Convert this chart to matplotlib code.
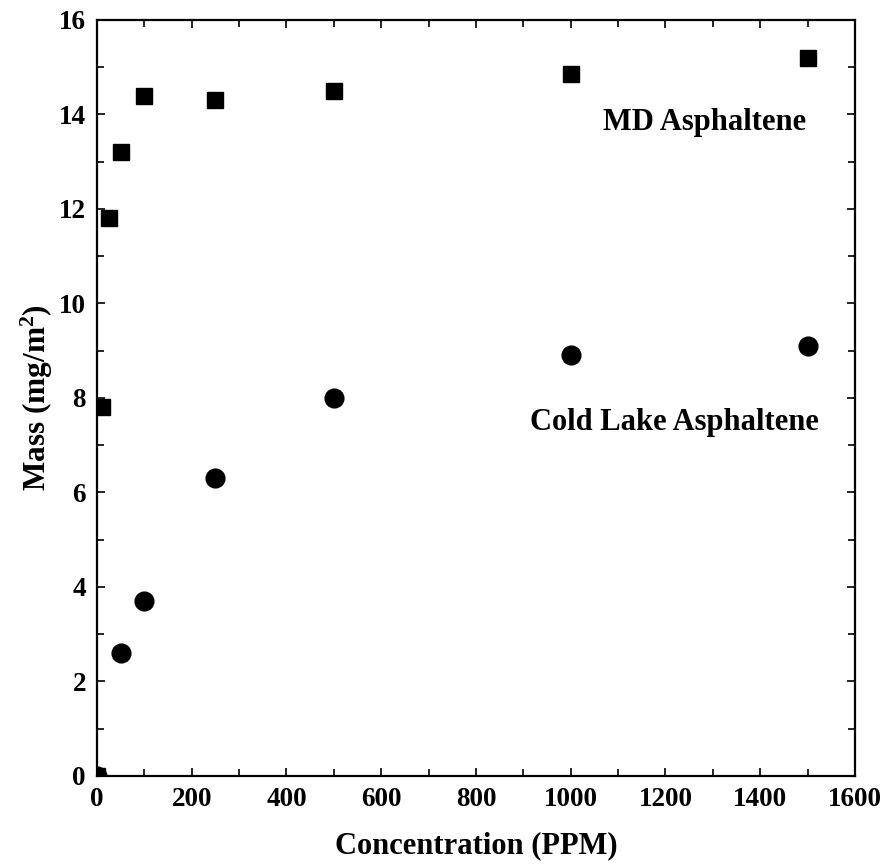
import numpy as np
import matplotlib.pyplot as plt
from matplotlib.ticker import MultipleLocator

plt.rcParams['font.family'] = ['Liberation Serif', 'DejaVu Serif']
plt.rcParams['font.weight'] = 'bold'
plt.rcParams['mathtext.fontset'] = 'custom'
plt.rcParams['mathtext.bf'] = 'Liberation Serif:bold'
plt.rcParams['mathtext.rm'] = 'Liberation Serif:bold'
plt.rcParams['mathtext.default'] = 'bf'

# adsorbed mass vs concentration
md_conc = [0, 10, 25, 50, 100, 250, 500, 1000, 1500]
md_mass = [0, 7.8, 11.8, 13.2, 14.4, 14.3, 14.5, 14.85, 15.2]
cl_conc = [0, 50, 100, 250, 500, 1000, 1500]
cl_mass = [0, 2.6, 3.7, 6.3, 8.0, 8.9, 9.1]

fig = plt.figure(figsize=(8.85, 8.65), dpi=100)
ax = fig.add_axes([0.1096, 0.1029, 0.8565, 0.874])

ax.plot(md_conc, md_mass, 's', color='k', ms=12, clip_on=True)
ax.plot(cl_conc, cl_mass, 'o', color='k', ms=13.5, clip_on=True)

ax.text(1283, 13.84, 'MD Asphaltene', ha='center', va='center',
        fontsize=22, fontweight='bold')
ax.text(1219, 7.49, 'Cold Lake Asphaltene', ha='center', va='center',
        fontsize=22, fontweight='bold')

ax.set_xlim(0, 1600)
ax.set_ylim(0, 16)
ax.xaxis.set_major_locator(MultipleLocator(200))
ax.xaxis.set_minor_locator(MultipleLocator(100))
ax.yaxis.set_major_locator(MultipleLocator(2))
ax.yaxis.set_minor_locator(MultipleLocator(1))
ax.tick_params(which='both', direction='in', top=True, right=True,
               labelsize=19.5, width=1.2, pad=8)
ax.tick_params(which='major', length=6)
ax.tick_params(which='minor', length=5)
for lbl in ax.get_xticklabels() + ax.get_yticklabels():
    lbl.set_fontweight('bold')
for sp in ax.spines.values():
    sp.set_linewidth(1.6)

ax.set_xlabel('Concentration (PPM)', fontsize=22, fontweight='bold', labelpad=14)
ax.set_ylabel('Mass (mg/m$^{2}$)', fontsize=22.5, fontweight='bold', labelpad=3)

fig.savefig('out.png', dpi=100)
